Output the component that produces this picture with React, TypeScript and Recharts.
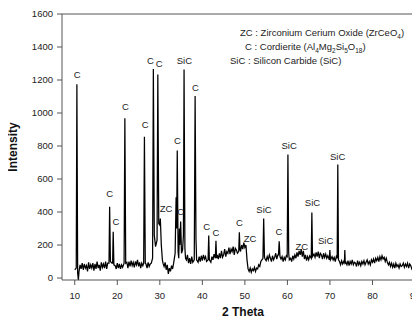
import React from 'react';
import { ComposedChart, Line, Scatter, XAxis, YAxis, ReferenceLine } from 'recharts';

// Background (noisy baseline) read at 0.25° steps starting at 10.0° 2θ
const BASE_START = 10;
const BASE_STEP = 0.25;
const baseline: number[] = [
  50, 55, 60, 40, // 10
  45, 80, 55, 90, // 11
  50, 85, 60, 75, // 12
  40, 95, 55, 80, // 13
  60, 90, 45, 85, // 14
  55, 100, 60, 80, // 15
  45, 95, 65, 85, // 16
  60, 100, 55, 90, // 17
  95, 100, 75, 90, // 18
  85, 60, 75, 55, // 19
  90, 60, 85, 55, // 20
  80, 65, 95, 70, // 21
  75, 95, 60, 100, // 22
  70, 105, 75, 95, // 23
  65, 100, 80, 110, // 24
  70, 95, 60, 90, // 25
  75, 100, 70, 85, // 26
  60, 95, 70, 85, // 27
  90, 110, 200, 250, // 28
  195, 210, 300, 330, // 29
  320, 250, 130, 90, // 30
  70, 95, 50, 80, // 31
  25, 60, 40, 75, // 32
  55, 90, 100, 150, // 33
  150, 150, 150, 150, // 34
  150, 150, 150, 150, // 35
  130, 110, 140, 90, // 36
  120, 85, 130, 95, // 37
  140, 115, 110, 110, // 38
  95, 130, 100, 135, // 39
  105, 140, 115, 130, // 40
  100, 140, 120, 120, // 41
  95, 130, 110, 145, // 42
  120, 130, 140, 115, // 43
  150, 120, 165, 125, // 44
  140, 175, 130, 160, // 45
  150, 185, 145, 175, // 46
  160, 190, 140, 180, // 47
  170, 150, 185, 170, // 48
  165, 200, 175, 215, // 49
  185, 200, 110, 55, // 50
  40, 60, 35, 55, // 51
  45, 65, 40, 60, // 52
  55, 80, 70, 100, // 53
  110, 130, 130, 115, // 54
  105, 130, 110, 140, // 55
  120, 100, 135, 110, // 56
  125, 150, 115, 140, // 57
  140, 130, 115, 130, // 58
  100, 125, 110, 135, // 59
  130, 150, 110, 120, // 60
  100, 135, 115, 140, // 61
  120, 155, 130, 165, // 62
  140, 175, 130, 165, // 63
  115, 140, 105, 130, // 64
  110, 135, 120, 120, // 65
  120, 145, 125, 155, // 66
  130, 160, 120, 150, // 67
  140, 115, 150, 125, // 68
  145, 120, 135, 110, // 69
  110, 105, 130, 110, // 70
  125, 100, 130, 120, // 71
  110, 100, 80, 105, // 72
  85, 100, 95, 95, // 73
  80, 105, 75, 100, // 74
  85, 110, 80, 95, // 75
  90, 70, 105, 80, // 76
  95, 75, 100, 85, // 77
  105, 80, 95, 110, // 78
  85, 100, 80, 110, // 79
  95, 115, 90, 120, // 80
  105, 125, 100, 130, // 81
  110, 135, 115, 125, // 82
  100, 120, 95, 80, // 83
  95, 70, 90, 65, // 84
  85, 60, 90, 70, // 85
  80, 60, 85, 70, // 86
  75, 90, 65, 85, // 87
  70, 90, 60, 85, // 88
  75, 55, 45, 30, // 89
  5, // 90
];

// Diffraction peak profile points [2θ, intensity]
const peakPoints: [number, number][] = [
  [10.35, 60], [10.5, 1175], [10.68, 30], [10.85, -12], [11.0, 40],
  [18.05, 90], [18.2, 432], [18.38, 100],
  [18.9, 90], [19.04, 280], [19.2, 80],
  [21.6, 90], [21.78, 968], [21.98, 90],
  [26.2, 90], [26.38, 856], [26.58, 90],
  [28.3, 120], [28.48, 1267], [28.7, 260], [29.0, 190], [29.35, 230], [29.53, 1233],
  [29.75, 330], [30.0, 320], [30.12, 361], [30.35, 200], [30.6, 110],
  [33.6, 150], [33.83, 490], [33.95, 300], [34.1, 772], [34.3, 160], [34.45, 120],
  [34.6, 300], [34.7, 200], [34.9, 343], [35.1, 150], [35.35, 170], [35.55, 260],
  [35.7, 1263], [35.9, 180], [36.05, 120],
  [38.1, 110], [38.3, 1103], [38.5, 240], [38.65, 110],
  [41.35, 110], [41.5, 257], [41.65, 110],
  [43.05, 120], [43.2, 225], [43.35, 120],
  [48.55, 160], [48.7, 277], [48.85, 170],
  [54.25, 120], [54.42, 361], [54.6, 130],
  [57.9, 140], [58.07, 222], [58.25, 130],
  [59.95, 130], [60.12, 748], [60.3, 150], [60.45, 110],
  [65.6, 120], [65.75, 397], [65.9, 130],
  [69.85, 110], [69.98, 170], [70.12, 110],
  [71.7, 120], [71.85, 688], [72.0, 110],
  [73.4, 90], [73.5, 170], [73.6, 90],
];

// Phase labels [2θ, intensity at label centre, text]
const labelX = [10.6, 18.2, 19.7, 21.9, 26.55, 27.8, 29.85, 35.77, 38.36, 31.48, 34.13, 34.93, 41.03, 43.2, 48.7, 51.2, 54.5, 58.0, 60.4, 63.4, 65.9, 69.0, 71.8];
const labelY = [1233, 511, 341, 1039, 928, 1317, 1299, 1317, 1153, 421, 832, 401, 311, 277, 337, 241, 417, 279, 802, 194, 457, 227, 738];
const labelText = ['C', 'C', 'C', 'C', 'C', 'C', 'C', 'SiC', 'C', 'ZC', 'C', 'C', 'C', 'C', 'C', 'ZC', 'SiC', 'C', 'SiC', 'ZC', 'SiC', 'SiC', 'SiC'];

const xTicks = [10, 20, 30, 40, 50, 60, 70, 80, 90];
const yTicks = [0, 200, 400, 600, 800, 1000, 1200, 1400, 1600];

const FONT = '"Liberation Sans", Arial, sans-serif';

function buildData() {
  const base = baseline.map((y, i) => ({ x: BASE_START + i * BASE_STEP, y }));
  const kept = base.filter((p) => !peakPoints.some(([px]) => Math.abs(px - p.x) < 0.13));
  const all = kept.concat(peakPoints.map(([x, y]) => ({ x, y })));
  all.sort((a, b) => a.x - b.x);
  return all;
}

const data = buildData();
const labels = labelX.map((x, i) => ({ x, y: labelY[i], t: labelText[i] }));

const LabelShape = (p: any) => (
  <text
    x={p.cx}
    y={p.cy}
    textAnchor="middle"
    dominantBaseline="central"
    fontSize={9.5}
    fill="#222"
    fontFamily={FONT}
  >
    {p.payload.t}
  </text>
);

export default function App() {
  return (
    <div style={{ margin: -8, position: 'relative', width: 420, height: 324, background: '#fff' }}>
      <ComposedChart
        width={420}
        height={324}
        margin={{ top: 14, right: 5, bottom: 0, left: 0 }}
        style={{ fontFamily: FONT }}
      >
        <XAxis
          type="number"
          dataKey="x"
          domain={[7, 90]}
          ticks={xTicks}
          allowDataOverflow
          height={44}
          tickSize={5}
          tickMargin={7}
          stroke="#555"
          tick={{ fill: '#222', fontSize: 9.5, fontFamily: FONT }}
        />
        <YAxis
          type="number"
          domain={[0, 1600]}
          ticks={yTicks}
          width={62}
          tickSize={5}
          tickMargin={4}
          stroke="#555"
          tick={{ fill: '#222', fontSize: 9.5, fontFamily: FONT }}
        />
        <ReferenceLine y={1600} stroke="#555" />
        <Line
          data={data}
          dataKey="y"
          type="linear"
          stroke="#000"
          strokeWidth={1.25}
          dot={false}
          activeDot={false}
          isAnimationActive={false}
        />
        <Scatter data={labels} dataKey="y" shape={LabelShape} isAnimationActive={false} />
      </ComposedChart>
      <svg
        width={420}
        height={324}
        style={{ position: 'absolute', left: 0, top: 0, pointerEvents: 'none' }}
        fontFamily={FONT}
      >
        <text x={13} y={147} transform="rotate(-90 13 147)" textAnchor="middle" dominantBaseline="central" fontSize={12} fontWeight="bold" fill="#111">
          Intensity
        </text>
        <text x={243} y={312} textAnchor="middle" dominantBaseline="central" fontSize={12} fontWeight="bold" fill="#111">
          2 Theta
        </text>
        <text x={240} y={36} fontSize={9.5} fill="#222">
          ZC : Zirconium Cerium Oxide (ZrCeO<tspan fontSize={6.5} dy={2.5}>4</tspan><tspan dy={-2.5}>)</tspan>
        </text>
        <text x={245} y={50} fontSize={9.5} fill="#222">
          C : Cordierite (Al<tspan fontSize={6.5} dy={2.5}>4</tspan><tspan dy={-2.5}>Mg</tspan><tspan fontSize={6.5} dy={2.5}>2</tspan><tspan dy={-2.5}>Si</tspan><tspan fontSize={6.5} dy={2.5}>5</tspan><tspan dy={-2.5}>O</tspan><tspan fontSize={6.5} dy={2.5}>18</tspan><tspan dy={-2.5}>)</tspan>
        </text>
        <text x={230} y={64} fontSize={9.5} fill="#222">
          SiC : Silicon Carbide (SiC)
        </text>
      </svg>
    </div>
  );
}
